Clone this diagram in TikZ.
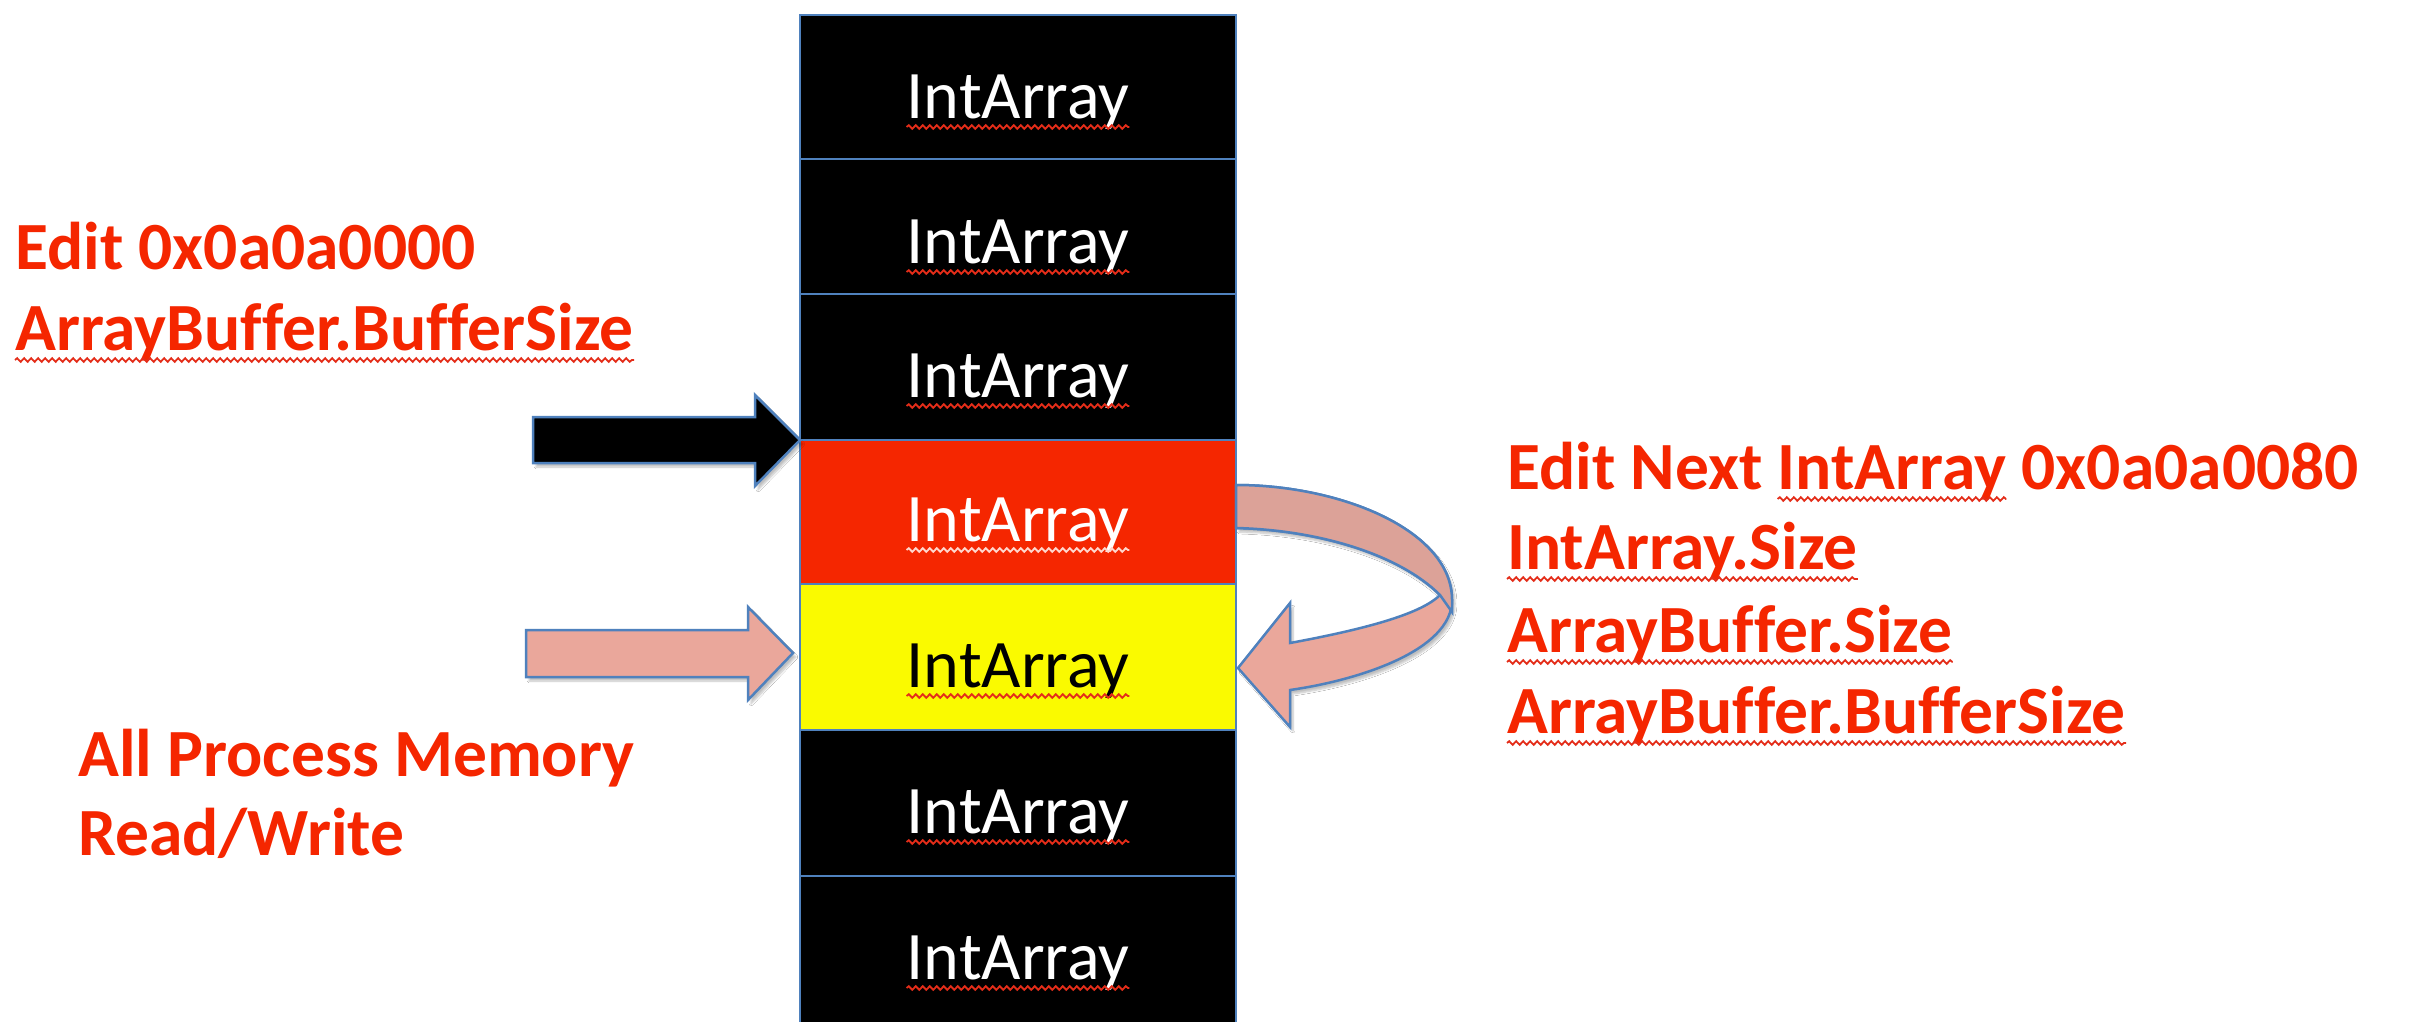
\documentclass[tikz,border=0pt]{standalone}
\usepackage{fontspec}
\setmainfont[Ligatures=NoCommon]{Carlito}
\usetikzlibrary{decorations.pathmorphing,shadows.blur}
\definecolor{outl}{RGB}{79,129,189}
\definecolor{txtred}{RGB}{245,38,0}
\definecolor{boxred}{RGB}{245,38,0}
\definecolor{boxyel}{RGB}{250,250,0}
\definecolor{pinkf}{RGB}{234,167,155}
\definecolor{pinkd}{RGB}{220,162,152}
\definecolor{squigred}{RGB}{228,45,25}
\definecolor{squiglt}{RGB}{255,215,205}
\begin{document}
\begin{tikzpicture}[x=1pt,y=-1pt,
  cell/.style={draw=outl, line width=2.5pt, anchor=north west, minimum width=436pt, inner sep=0pt, outer sep=0pt},
  celltxt/.style={font=\fontsize{68}{80}\selectfont, anchor=base, inner sep=0pt, text=white},
  lbl/.style={font=\fontsize{67.5}{81}\selectfont\bfseries, text=txtred, anchor=base west, inner sep=0pt},
  squig/.style={decorate, decoration={snake, amplitude=1.8pt, segment length=7pt}, line width=1.8pt, draw=squigred},
  arr/.style={draw=outl, line width=2.5pt, line join=miter},
  shad/.style={blur shadow={shadow xshift=3pt, shadow yshift=-4pt, shadow opacity=25, shadow blur steps=6}}
]
\useasboundingbox (0,0) rectangle (2410,1021);
\fill[white] (0,0) rectangle (2410,1021);

% memory column
\node[cell, fill=black, minimum height=144pt] (c1) at (800,15) {};
\node[cell, fill=black, minimum height=135pt] (c2) at (800,159) {};
\node[cell, fill=black, minimum height=146pt] (c3) at (800,294) {};
\node[cell, fill=boxred, minimum height=144pt] (c4) at (800,440) {};
\node[cell, fill=boxyel, minimum height=146pt] (c5) at (800,584) {};
\node[cell, fill=black, minimum height=146pt] (c6) at (800,730) {};
\node[cell, fill=black, minimum height=160pt] (c7) at (800,876) {};

\node[celltxt] (t1) at (1018,118) {IntArray};
\node[celltxt] (t2) at (1018,263) {IntArray};
\node[celltxt] (t3) at (1018,397) {IntArray};
\node[celltxt] (t4) at (1018,541) {IntArray};
\node[celltxt, text=black] (t5) at (1018,687) {IntArray};
\node[celltxt] (t6) at (1018,833) {IntArray};
\node[celltxt] (t7) at (1018,979) {IntArray};
\foreach \t in {t1,t2,t3,t6,t7}
  \draw[squig] ([yshift=-9pt]\t.base west) -- ([yshift=-9pt]\t.base east);
\draw[squig, draw=squiglt] ([yshift=-9pt]t4.base west) -- ([yshift=-9pt]t4.base east);
\draw[squig] ([yshift=-9pt]t5.base west) -- ([yshift=-9pt]t5.base east);

% black block arrow pointing at red cell top
\coordinate (bt) at (c4.north west);
\path[arr, fill=black, shad] (533,417) -- (755,417) -- (755,395) -- (bt) -- (755,486) -- (755,463) -- (533,463) -- cycle;

% pink block arrow pointing at yellow cell
\coordinate (pt) at (793,653);
\path[arr, fill=pinkf, shad] (526,630) -- (748,630) -- (748,607) -- (pt) -- (748,700) -- (748,677) -- (526,677) -- cycle;

% curved arrow from red cell to yellow cell
\coordinate (ct) at (1238,668);
\path[arr, fill=pinkf, shad] (1236,485) .. controls (1340,485) and (1452,530) .. (1452,600)
  .. controls (1452,650) and (1360,680) .. (1290,690)
  -- (1290,727) -- (ct) -- (1290,603) -- (1290,643)
  .. controls (1360,630) and (1420,615) .. (1440,595)
  .. controls (1400,555) and (1320,530) .. (1236,528) -- cycle;
\path[arr, fill=pinkd] (1236,485) .. controls (1340,485) and (1452,530) .. (1452,600)
  -- (1452,612) -- (1440,595)
  .. controls (1400,555) and (1320,530) .. (1236,528) -- cycle;

% left labels
\node[lbl] (l1) at (15,269) {Edit 0x0a0a0000};
\node[lbl] (l2) at (15,350) {ArrayBuffer.BufferSize};
\draw[squig] ([yshift=-10pt]l2.base west) -- ([yshift=-10pt]l2.base east);
\node[lbl] (l3) at (78,776) {All Process Memory};
\node[lbl] (l4) at (78,855) {Read/Write};

% right labels
\node[lbl] (r1a) at (1507,489) {Edit Next};
\node[lbl] (r1b) at ([xshift=15pt]r1a.base east) {IntArray};
\node[lbl] (r1c) at ([xshift=15pt]r1b.base east) {0x0a0a0080};
\draw[squig] ([yshift=-10pt]r1b.base west) -- ([yshift=-10pt]r1b.base east);
\node[lbl] (r2) at (1507,569) {IntArray.Size};
\node[lbl] (r3) at (1507,652) {ArrayBuffer.Size};
\node[lbl] (r4) at (1507,733) {ArrayBuffer.BufferSize};
\foreach \t in {r2,r3,r4}
  \draw[squig] ([yshift=-10pt]\t.base west) -- ([yshift=-10pt]\t.base east);
\end{tikzpicture}
\end{document}
